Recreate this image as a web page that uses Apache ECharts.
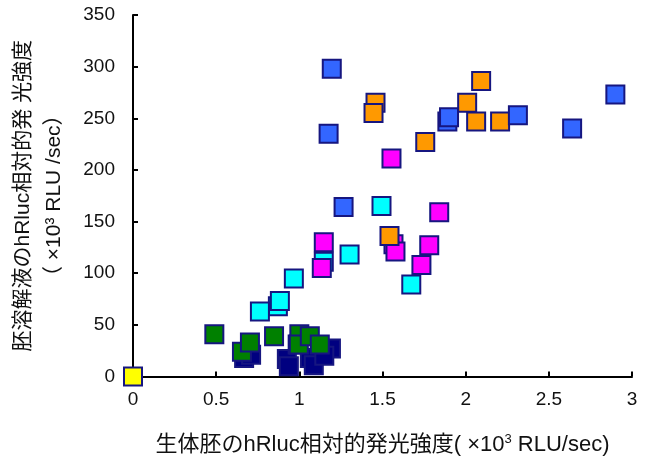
<!DOCTYPE html>
<html>
<head>
<meta charset="utf-8">
<script src="https://cdn.jsdelivr.net/npm/echarts@6/dist/echarts.min.js"></script>
<style>html,body{margin:0;padding:0;background:#fff}#c{width:648px;height:461px}</style>
</head>
<body>
<div id="c"></div>
<script>
const xTicks = [0, 0.5, 1, 1.5, 2, 2.5, 3];
const yTicks = [0, 50, 100, 150, 200, 250, 300, 350];
const navyPts = [[0.668,18],[0.71,21],[0.925,17],[0.937,10],[0.99,31],[1.063,18],[1.087,11],[1.19,27],[1.15,20]];
const greenPts = [[0.489,41],[0.655,24],[0.703,33],[0.848,39],[1.0,41],[0.997,31],[1.063,39],[1.123,31]];
const cyanPts = [[1.494,165],[1.302,118],[1.147,111],[0.967,95],[1.673,89],[0.871,68],[0.883,73],[0.763,63]];
const magentaPts = [[1.554,211],[1.841,159],[1.147,130],[1.135,105],[1.566,128],[1.578,121],[1.781,127],[1.734,108]];
const orangePts = [[2.093,286],[1.458,265],[1.446,255],[2.009,265],[2.063,247],[2.207,247],[1.757,227],[1.542,136]];
const bluePts = [[1.195,298],[1.176,235],[1.266,164],[1.89,247],[1.90,251],[2.314,253],[2.64,240],[2.90,273]];
const yellowPts = [[0,0]];
const seriesDefs = [
  ['navy', navyPts, '#000080'],
  ['green', greenPts, '#008000'],
  ['cyan', cyanPts, '#00FFFF'],
  ['magenta', magentaPts, '#FF00FF'],
  ['orange', orangePts, '#FF9900'],
  ['blue', bluePts, '#3366FF'],
  ['yellow', yellowPts, '#FFFF00']
];
const chart = echarts.init(document.getElementById('c'));
const font = 'Liberation Sans, Arial, Noto Sans CJK JP, sans-serif';
chart.setOption({
  animation: false,
  grid: {left: 130, right: 16, top: 15, bottom: 84, containLabel: false},
  xAxis: {
    type: 'value', min: 0, max: 3, interval: 0.5,
    axisLine: {show: true, lineStyle: {color: '#000', width: 2}},
    axisTick: {show: true, inside: true, length: 5, lineStyle: {color: '#000', width: 2}},
    splitLine: {show: false},
    axisLabel: {color: '#111', fontSize: 19, fontFamily: font, margin: 14},
    name: '生体胚のhRluc相対的発光強度( ×10{sup|3} RLU/sec)',
    nameLocation: 'middle', nameGap: 56,
    nameTextStyle: {color: '#111', fontSize: 22, fontFamily: font, rich: {sup: {fontSize: 13, verticalAlign: 'top', padding: [0,0,12,0], fontFamily: font}}}
  },
  yAxis: {
    type: 'value', min: 0, max: 350, interval: 50,
    axisLine: {show: true, lineStyle: {color: '#000', width: 2}},
    axisTick: {show: true, inside: true, length: 5, lineStyle: {color: '#000', width: 2}},
    splitLine: {show: false},
    axisLabel: {color: '#111', fontSize: 19, fontFamily: font, margin: 18},
    name: '胚溶解液のhRluc相対的発 光強度\n（ ×10³ RLU /sec）',
    nameLocation: 'middle', nameGap: 63, nameRotate: 90,
    nameTextStyle: {color: '#111', fontSize: 21, fontFamily: font, lineHeight: 31}
  },
  series: seriesDefs.map(([name, pts, color]) => ({
    name: name, type: 'scatter', data: pts, symbol: 'rect', symbolSize: 18,
    itemStyle: {color: color, borderColor: '#161680', borderWidth: 2, opacity: 1}
  }))
});
</script>
</body>
</html>
